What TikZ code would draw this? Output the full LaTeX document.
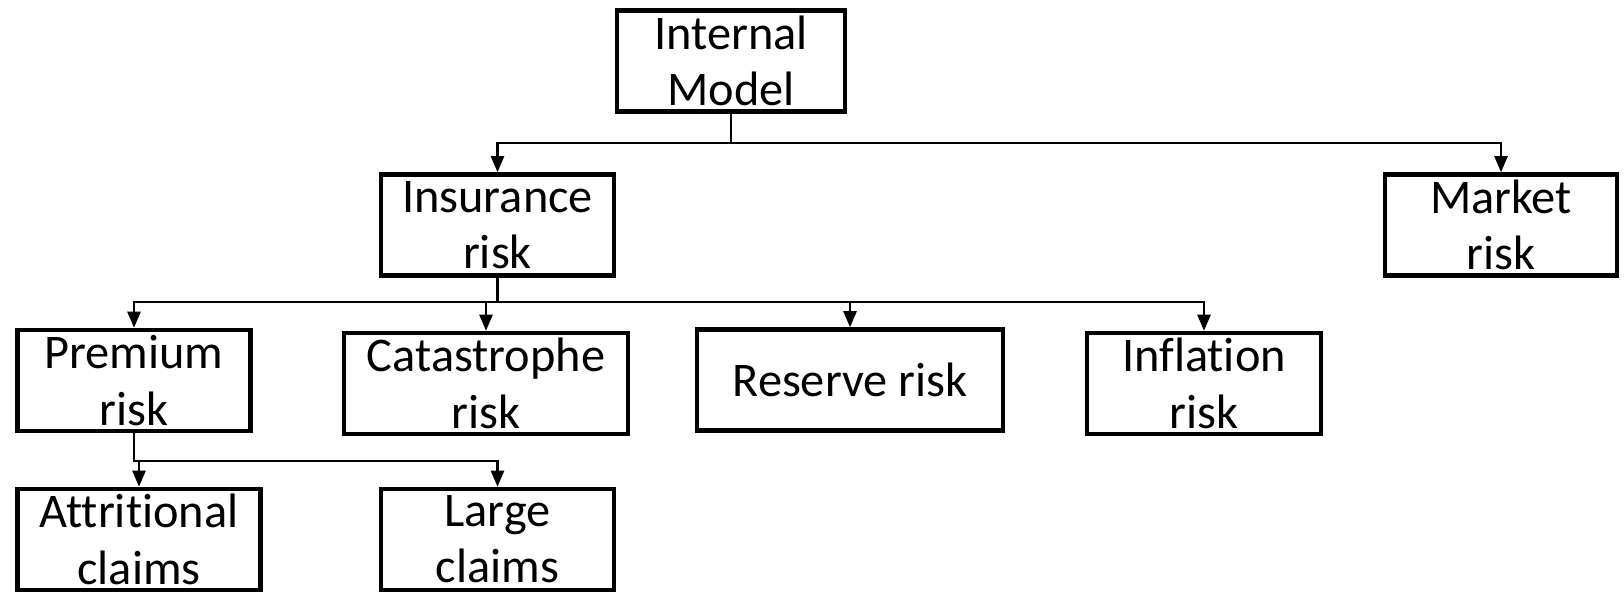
\documentclass[tikz,border=0pt]{standalone}
\usepackage{fontspec}
\setmainfont[RawFeature={-liga}]{Carlito}
\usetikzlibrary{arrows.meta,positioning}

\tikzset{
	riskbox/.style={draw, line width=2.6pt, align=center, inner sep=0pt,
		minimum height=2.02cm, font=\fontsize{27.5}{32}\selectfont},
	link/.style={line width=1.4pt, -{Triangle[length=0.32cm,width=0.26cm]}}
}

\begin{document}
\begin{tikzpicture}
		\useasboundingbox (0,0) rectangle (32.48,-11.92);
		% top level
		\node[riskbox, minimum width=4.56cm] (internal) at (14.62,-1.22) {Internal\\Model};
		\node[riskbox, minimum width=4.66cm] (insurance) at (9.95,-4.5) {Insurance\\risk};
		\node[riskbox, minimum width=4.64cm] (market) at (30.02,-4.5) {Market\\risk};
		% insurance risk parts
		\node[riskbox, minimum width=4.65cm] (premium) at (2.68,-7.61) {Premium\\risk};
		\node[riskbox, minimum width=5.68cm] (catastrophe) at (9.72,-7.67) {Catastrophe\\risk};
		\node[riskbox, minimum width=6.12cm] (reserve) at (17.0,-7.6) {Reserve risk};
		\node[riskbox, minimum width=4.68cm] (inflation) at (24.08,-7.67) {Inflation\\risk};
		% premium risk parts
		\node[riskbox, minimum width=4.85cm] (attritional) at (2.78,-10.79) {Attritional\\claims};
		\node[riskbox, minimum width=4.66cm] (large) at (9.95,-10.79) {Large\\claims};

		\coordinate (railA) at (0,-2.86);
		\coordinate (railB) at (0,-6.04);
		\coordinate (railC) at (0,-9.22);

		\draw[link] (internal.south) -- (internal.south |- railA) -| (insurance.north);
		\draw[link] (internal.south) -- (internal.south |- railA) -| (market.north);
		\foreach \n in {premium,catastrophe,reserve,inflation}
			\draw[link] (insurance.south) -- (insurance.south |- railB) -| (\n.north);
		\foreach \n in {attritional,large}
			\draw[link] (premium.south) -- (premium.south |- railC) -| (\n.north);
	\end{tikzpicture}
\end{document}
